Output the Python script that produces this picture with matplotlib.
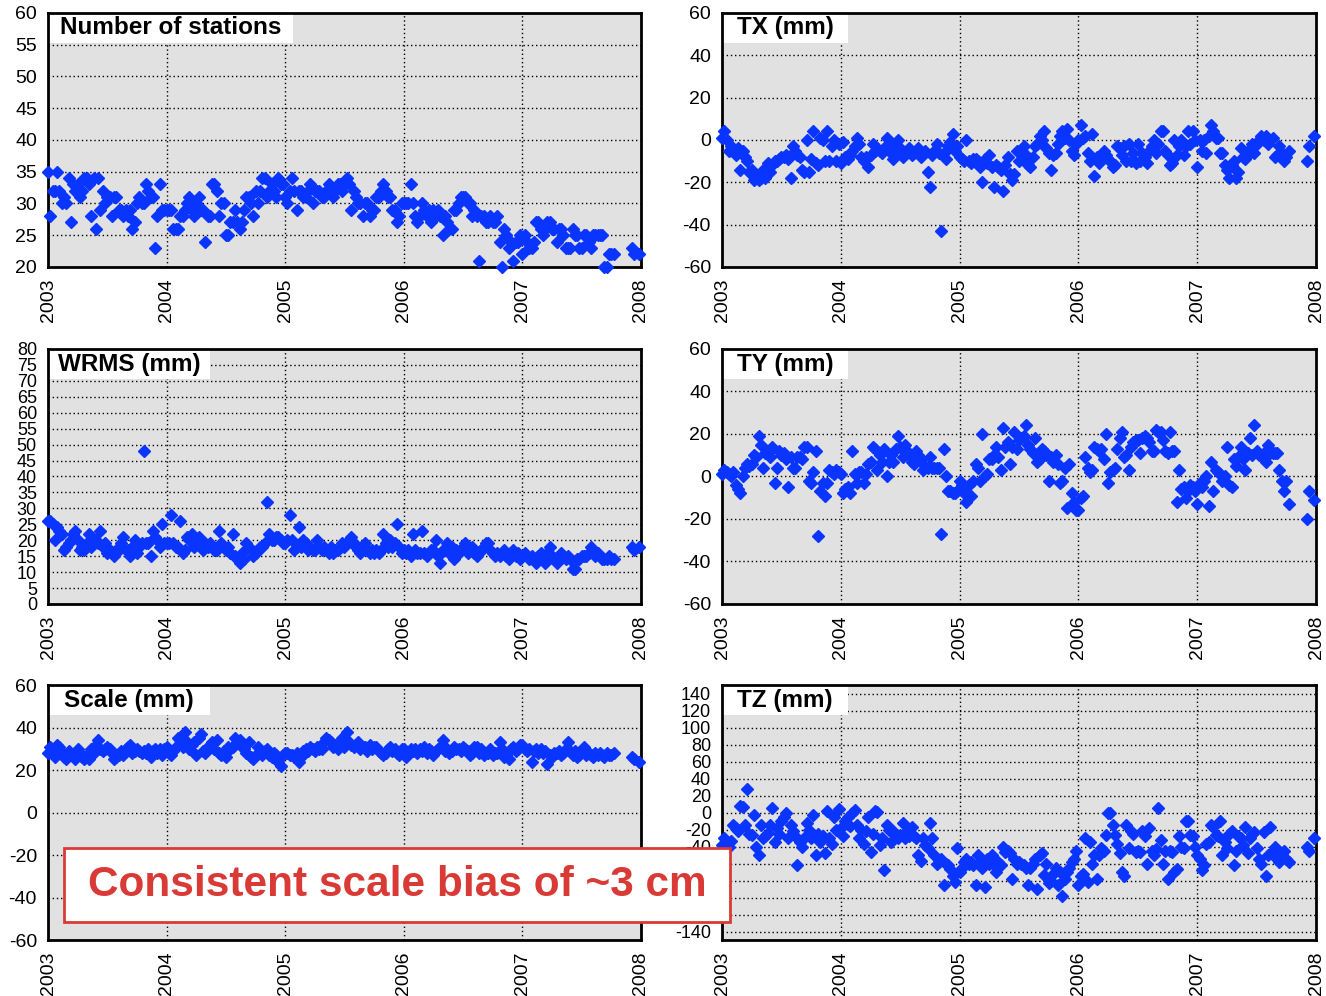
import numpy as np
import matplotlib
matplotlib.use("Agg")
import matplotlib.pyplot as plt
from matplotlib.patches import Rectangle

plt.rcParams['font.family'] = ['Liberation Sans', 'DejaVu Sans']

N = np.nan

# weekly solutions, 2003.0 .. 2008.0 (one row = one quarter, 13 weeks)
weeks = np.arange(260)
epoch = 2003 + weeks / 52.0

stations = [
    35, 28, 32, 32, 35, 32, 30, 31, 30, 34, 27, 33, 32,
    33, 31, 32, 34, 34, 33, 28, 34, 26, 34, 29, 32, 30,
    31, 31, 28, 31, 31, 29, 29, 28, 29, 28, 29, 26, 27,
    30, 31, 30, 30, 33, 32, 31, 31, 23, 28, 33, 29, 29,
    29, 29, 29, 26, 26, 26, 28, 28, 29, 30, 31, 29, 28,
    30, 31, 29, 29, 24, 28, 28, 33, 33, 32, 28, 30, 30,
    25, 25, 27, 27, 29, 27, 26, 27, 29, 31, 31, 30, 28,
    32, 30, 32, 34, 34, 31, 32, 33, 32, 31, 34, 33, 33,
    31, 30, 32, 34, 32, 29, 32, 32, 31, 31, 32, 33, 30,
    32, 32, 32, 31, 31, 32, 33, 32, 31, 32, 33, 33, 32,
    33, 34, 33, 29, 32, 31, 30, 30, 28, 30, 30, 28, 29,
    29, 31, 31, 32, 33, 32, 31, 31, 29, 29, 27, 28, 30,
    30, 30, 30, 33, 30, 28, 27, 28, 30, 29, 28, 29, 27,
    29, 28, 29, 28, 25, 28, 27, 26, 26, 29, 29, 30, 31,
    31, 31, 30, 30, 28, 29, 28, 21, 28, 28, 27, 27, 28,
    27, 27, 28, 24, 20, 26, 25, 23, 24, 21, 24, 24, 25,
    22, 25, 24, 23, 23, 24, 27, 27, 26, 25, 26, 27, 27,
    26, 26, 24, 26, 26, 25, 23, 23, 23, 26, 25, 25, 23,
    23, 25, 25, 24, 23, 25, 25, 25, 25, 25, 20, 20, 22,
    22, 22, N, N, N, N, N, N, N, 23, 22, N, 22,
]

tx = [
    1, 4, 0, -5, -3, -5, -7, -4, -14, -5, -8, -10, -15,
    -14, -19, -17, -19, -18, -14, -18, -11, -15, -12, -10, -10, -9,
    -8, -8, -7, -9, -18, -3, -5, -7, -8, -14, -15, 0, -15,
    -9, 4, -11, -12, 1, 0, -10, 4, -10, -3, 0, -10, -2,
    -11, -1, -8, -9, -7, -5, -3, 1, -2, -8, -10, -8, -13,
    -7, -2, -5, -4, -5, -6, -4, 1, -5, -3, -9, -5, 0,
    -4, -8, -6, -5, -4, -7, -6, -5, -4, -8, -6, -5, -15,
    -22, -7, -5, -2, -6, -43, -6, -9, -3, -1, 3, -5, -3,
    -8, -9, -10, 0, -10, -11, -9, -9, -10, -13, -20, -9, -11,
    -7, -13, -22, -12, -13, -14, -24, -12, -8, -16, -19, -16, -5,
    -10, -5, -3, -7, -12, -13, -8, -3, -2, 2, 0, 4, -4,
    -6, -14, -7, -6, -2, 2, 4, 1, 5, 0, -5, -7, -2,
    0, 7, 1, 2, -6, -10, 3, -17, -8, -11, -7, -5, -7,
    -9, -10, -13, -12, -3, -4, -7, -3, -10, -2, -10, -6, -11,
    -2, -10, -6, -8, -11, -5, -3, 0, -6, -2, 4, 4, -5,
    -7, -12, -11, 0, -7, -3, 0, -7, -3, 4, -2, 4, 0,
    -13, 0, -5, 0, -6, 2, 7, 4, 1, 1, -6, -6, -12,
    -14, -18, -12, -10, -18, -15, -4, -8, -9, -5, -6, -2, -6,
    -2, 0, 2, 0, 2, -2, 0, 1, -8, -7, -3, -6, -10,
    -8, -5, N, N, N, N, N, N, N, -10, -3, N, 2,
]

wrms = [
    26, 26, 25, 20, 24, 23, 22, 17, 18, 19, 20, 22, 23,
    20, 17, 18, 17, 19, 22, 18, 19, 20, 19, 23, 18, 19,
    16, 17, 16, 15, 16, 18, 19, 21, 17, 17, 15, 18, 20,
    16, 18, 19, 48, 19, 19, 15, 23, 21, 20, 18, 25, 19,
    19, 19, 28, 19, 18, 18, 26, 16, 17, 21, 20, 22, 18,
    20, 21, 19, 17, 19, 18, 19, 18, 17, 17, 23, 19, 18,
    17, 18, 16, 22, 15, 14, 13, 16, 14, 19, 18, 17, 15,
    16, 17, 18, 18, 19, 32, 22, 20, 20, 21, 21, 20, 19,
    19, 20, 28, 20, 17, 18, 24, 18, 20, 19, 17, 18, 17,
    17, 20, 18, 17, 18, 17, 16, 18, 16, 17, 17, 18, 19,
    18, 19, 20, 21, 19, 18, 17, 16, 17, 19, 17, 16, 17,
    16, 17, 16, 17, 22, 19, 18, 20, 18, 19, 25, 18, 16,
    17, 16, 17, 15, 22, 17, 16, 16, 23, 16, 15, 16, 17,
    17, 20, 15, 13, 17, 17, 19, 16, 18, 14, 17, 16, 17,
    18, 19, 16, 17, 18, 16, 15, 16, 17, 18, 19, 19, 17,
    16, 15, 16, 15, 16, 17, 15, 14, 16, 17, 15, 16, 14,
    15, 16, 15, 14, 15, 14, 13, 15, 16, 14, 13, 16, 18,
    15, 14, 13, 15, 16, 15, 14, 15, 14, 11, 11, 14, 14,
    15, 15, 15, 16, 18, 16, 15, 16, 15, 14, 14, 14, 15,
    14, 14, N, N, N, N, N, N, N, 18, 17, N, 18,
]

ty = [
    1, 3, 2, 1, 0, 2, -4, -6, -8, 0, 4, 6, 5,
    6, 10, 9, 19, 15, 4, 11, 11, 9, 14, -3, 4, 12,
    10, 11, 8, -5, 9, 4, 4, 9, 9, 8, 14, 14, -2,
    -3, 2, 12, -28, -7, -3, -9, -3, 3, 2, 1, 3, 2,
    1, -8, -6, -5, -8, 12, 1, -3, 2, 2, -3, 1, 6,
    7, 14, 13, 3, 10, 7, 13, 0, 7, 10, 7, 13, 19,
    14, 9, 15, 12, 10, 7, 6, 12, 10, 8, 3, 5, 4,
    9, 4, 4, 4, 4, -27, 13, 0, -7, -7, -8, -8, -7,
    -2, -4, -8, -12, -4, -9, -2, 6, 4, -2, 20, 0, 1,
    8, 8, 10, 14, 9, 3, 23, 14, 16, 6, 14, 21, 13,
    17, 18, 19, 24, 15, 13, 11, 18, 7, 8, 13, 12, 10,
    -2, 9, 7, 10, 6, -3, -2, 4, -15, 6, -8, -12, -16,
    -16, -10, -9, 9, 4, 2, 3, 14, 13, 12, 13, 8, 20,
    -3, 2, 3, 4, 13, 18, 21, 9, 10, 3, 14, 16, 17,
    17, 11, 18, 19, 18, 16, 12, 12, 22, 21, 21, 17, 12,
    11, 21, 12, 12, -12, 3, -6, -5, -10, -7, -4, -5, -7,
    -13, -3, -5, -2, 0, -14, 7, -7, 3, 2, 1, -2, 0,
    14, -4, -5, 8, 5, 9, 14, 8, 3, 11, 18, 10, 24,
    12, 10, 10, 11, 7, 15, 11, 11, 11, 11, 3, -2, -7,
    -2, -13, N, N, N, N, N, N, N, -20, -7, N, -11,
]

scale = [
    28, 31, 30, 26, 32, 31, 28, 26, 25, 29, 27, 27, 25,
    30, 28, 26, 25, 27, 25, 30, 28, 32, 34, 30, 29, 30,
    31, 30, 28, 25, 26, 27, 29, 27, 30, 31, 32, 28, 29,
    30, 29, 28, 29, 28, 30, 26, 29, 30, 28, 30, 27, 30,
    31, 28, 27, 29, 31, 35, 34, 31, 38, 33, 30, 32, 33,
    27, 35, 37, 29, 28, 31, 32, 33, 30, 34, 28, 27, 29,
    26, 31, 30, 31, 35, 33, 34, 32, 30, 28, 33, 26, 25,
    27, 31, 28, 27, 29, 30, 27, 26, 28, 27, 24, 22, 27,
    28, 28, 27, 27, 26, 28, 24, 26, 29, 30, 29, 31, 30,
    29, 31, 30, 30, 33, 35, 34, 33, 31, 32, 30, 33, 35,
    31, 38, 33, 32, 31, 32, 33, 30, 31, 31, 29, 32, 30,
    31, 31, 29, 28, 27, 28, 30, 31, 29, 30, 28, 27, 30,
    30, 26, 28, 30, 29, 30, 28, 30, 29, 31, 28, 30, 29,
    27, 29, 30, 31, 34, 29, 30, 28, 29, 31, 30, 30, 29,
    31, 30, 29, 27, 28, 31, 31, 28, 30, 27, 28, 28, 30,
    27, 28, 28, 33, 30, 26, 27, 25, 30, 31, 29, 30, 32,
    32, 30, 29, 30, 24, 29, 30, 28, 30, 28, 29, 23, 27,
    26, 28, 28, 29, 27, 28, 30, 33, 29, 27, 29, 26, 27,
    29, 31, 27, 28, 27, 26, 28, 27, 28, 27, 26, 28, 27,
    27, 28, N, N, N, N, N, N, N, 26, 25, N, 24,
]

tz = [
    -38, -30, -35, -40, -33, -15, -18, -22, 8, 7, -15, 28, -25,
    -27, -3, -40, -50, -15, -30, -28, -24, -15, 5, -35, -18, -25,
    -10, -5, 0, -30, -15, -22, -28, -62, -35, -40, -30, -12, -20,
    -30, -3, -50, -25, -35, -28, -48, 2, -30, -37, -5, -20, 4,
    -18, -28, -10, -5, -16, 0, 3, -15, -30, -20, -37, -22, -5,
    -47, -25, 2, 1, -38, -30, -68, -15, -20, -35, -22, -28, -30,
    -27, -12, -30, -22, -28, -17, -28, -30, -50, -57, -30, -38, -42,
    -12, -30, -50, -60, -58, -55, -85, -60, -62, -67, -75, -82, -42,
    -70, -65, -58, -55, -60, -58, -62, -85, -50, -58, -65, -88, -55,
    -60, -50, -62, -70, -58, -62, -40, -46, -45, -48, -78, -55, -60,
    -58, -60, -62, -65, -85, -65, -60, -55, -90, -50, -48, -73, -60,
    -83, -80, -72, -65, -85, -70, -98, -78, -70, -65, -58, -55, -45,
    -85, -75, -72, -30, -82, -35, -60, -50, -78, -50, -42, -45, -27,
    0, 0, -15, -27, -37, -48, -70, -75, -15, -42, -22, -25, -47,
    -45, -47, -22, -28, -60, -18, -45, -50, -43, 5, -32, -60, -45,
    -78, -45, -47, -70, -66, -28, -40, -42, -10, -10, -26, -28, -40,
    -50, -55, -68, -62, -37, -35, -15, -17, -27, -28, -10, -50, -35,
    -42, -25, -22, -62, -45, -28, -30, -38, -17, -48, -30, -25, -23,
    -42, -55, -60, -23, -75, -50, -17, -45, -40, -55, -58, -50, -45,
    -55, -58, N, N, N, N, N, N, N, -40, -45, N, -30,
]

years = [2003, 2004, 2005, 2006, 2007, 2008]

# title, data, y ticks, y limits, axes rect (fig fraction), title box width, tick font size
panels = [
    ("Number of stations", stations, np.arange(20, 61, 5), (20, 60),
     [0.0362, 0.732, 0.4472, 0.255], 0.413, 14),
    ("TX (mm)", tx, np.arange(-60, 61, 20), (-60, 60),
     [0.5445, 0.732, 0.448, 0.255], 0.212, 14),
    ("WRMS (mm)", wrms, np.arange(0, 81, 5), (0, 80),
     [0.0362, 0.3936, 0.4472, 0.256], 0.273, 13),
    ("TY (mm)", ty, np.arange(-60, 61, 20), (-60, 60),
     [0.5445, 0.3936, 0.448, 0.256], 0.212, 14),
    ("Scale (mm)", scale, np.arange(-60, 61, 20), (-60, 60),
     [0.0362, 0.0562, 0.4472, 0.256], 0.273, 14),
    ("TZ (mm)", tz, np.arange(-140, 141, 20), (-150, 150),
     [0.5445, 0.0562, 0.448, 0.256], 0.212, 13),
]

fig = plt.figure(figsize=(13.26, 9.96), dpi=100)

for title, vals, yt, ylim, rect, boxw, ysize in panels:
    ax = fig.add_axes(rect)
    ax.set_facecolor("#e1e1e1")
    ax.plot(epoch, vals, linestyle="none", marker="D", ms=6,
            color="#0a34ff", mec="#0a34ff", zorder=3, clip_on=False)
    ax.set_xlim(2003, 2008)
    ax.set_ylim(*ylim)
    ax.set_xticks(years)
    ax.set_xticklabels([str(y) for y in years], rotation=90, fontsize=14)
    ax.set_yticks(yt)
    ax.set_yticklabels([str(v) for v in yt], fontsize=ysize)
    ax.tick_params(length=0, pad=8)
    ax.grid(True, color="black", linestyle=(0, (1, 2)), linewidth=1.0)
    ax.set_axisbelow(True)
    for sp in ax.spines.values():
        sp.set_linewidth(2)
    ax.add_patch(Rectangle((0, 0.882), boxw, 0.118, transform=ax.transAxes,
                           facecolor="white", edgecolor="none", zorder=2.5))
    ax.text(boxw / 2, 0.941, title, transform=ax.transAxes, ha="center",
            va="center", fontsize=17.5, fontweight="bold", zorder=4)

# annotation box
fig.patches.append(Rectangle((0.0483, 0.0743), 0.5022, 0.0743,
                             transform=fig.transFigure, facecolor="white",
                             edgecolor="#d93a36", linewidth=2, zorder=10))
fig.text(0.2994, 0.1114, "Consistent scale bias of ~3 cm", ha="center",
         va="center", fontsize=30.5, fontweight="bold", color="#d93a36",
         zorder=11)

fig.savefig("out.png", dpi=100)
